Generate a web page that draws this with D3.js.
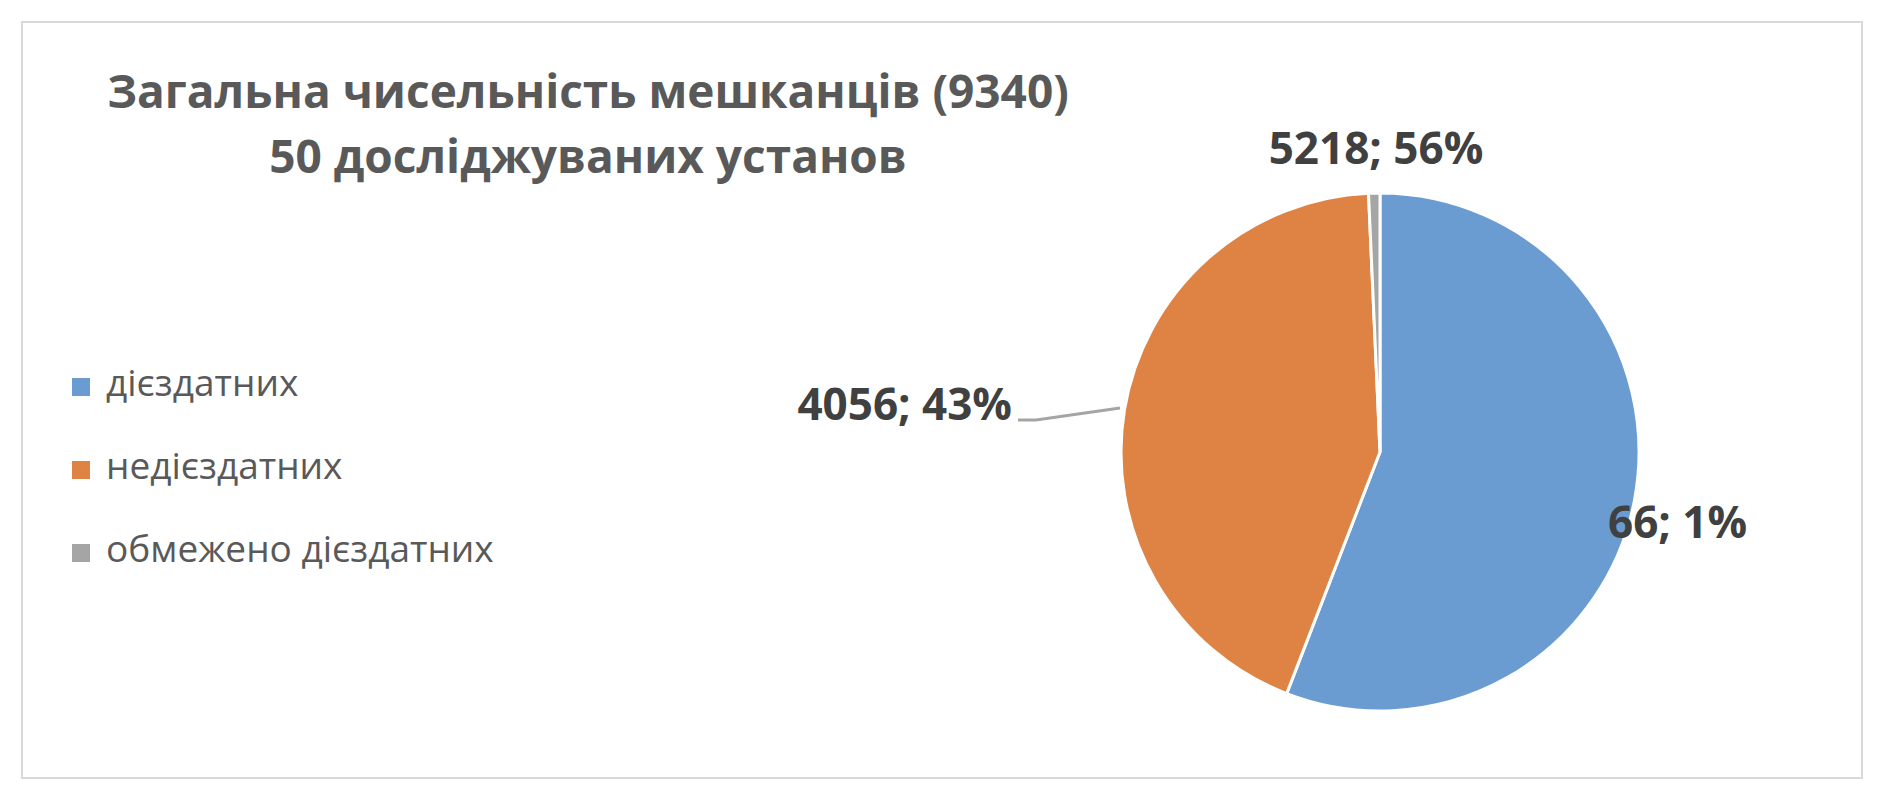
<!DOCTYPE html><html><head><meta charset="utf-8"><script src="https://cdn.jsdelivr.net/npm/d3@7"></script>
<style>body{margin:0;background:#fff}</style></head><body><svg id="c" width="1880" height="802"></svg>
<script>
const categories=["діездатних"," недієздатних","обмежено дієздатних"].map((s,i)=>i==0?"дієздатних":s);
const values=[5218,4056,66];
const percents=["56%","43%","1%"];
const colors=["#6A9BD1","#DF8344","#A5A5A5"];
const title=["Загальна чисельність мешканців (9340)","50 досліджуваних установ"];
const svg=d3.select("#c");
svg.append("rect").attr("x",22).attr("y",22).attr("width",1840).attr("height",756).attr("fill","#fff").attr("stroke","#d9d9d9").attr("stroke-width",2);
svg.selectAll(".t").data(title).enter().append("text").attr("x",588).attr("y",(d,i)=>108+i*65)
 .attr("text-anchor","middle").attr("font-family","Open Sans, sans-serif").attr("font-weight","bold").attr("font-size",46).attr("fill","#595959").text(d=>d);
const lg=svg.selectAll(".l").data(categories).enter().append("g").attr("transform",(d,i)=>`translate(72,${396+i*83})`);
lg.append("rect").attr("y",-18).attr("width",18).attr("height",18).attr("fill",(d,i)=>colors[i]);
lg.append("text").attr("x",34).attr("y",0).attr("font-family","Open Sans, sans-serif").attr("font-size",37).attr("fill","#595959").text(d=>d);
const cx=1380,cy=452,r=259;
const pie=d3.pie().sort(null)(values);
const arc=d3.arc().innerRadius(0).outerRadius(r);
const g=svg.append("g").attr("transform",`translate(${cx},${cy})`);
g.selectAll("path").data(pie).enter().append("path").attr("d",arc).attr("fill",(d,i)=>colors[i]).attr("stroke","#fff").attr("stroke-width",3);
const lab=[{x:1376,y:164,a:"middle"},{x:1012,y:420,a:"end"},{x:1608,y:538,a:"start"}];
svg.selectAll(".dl").data(pie).enter().append("text").attr("x",(d,i)=>lab[i].x).attr("y",(d,i)=>lab[i].y).attr("text-anchor",(d,i)=>lab[i].a)
 .attr("font-family","Open Sans, sans-serif").attr("font-weight","bold").attr("font-size",44).attr("fill","#404040").text((d,i)=>d.data+"; "+percents[i]);
svg.append("polyline").attr("points","1018,420 1036,420 1120,408").attr("fill","none").attr("stroke","#a5a5a5").attr("stroke-width",3);
</script></body></html>
